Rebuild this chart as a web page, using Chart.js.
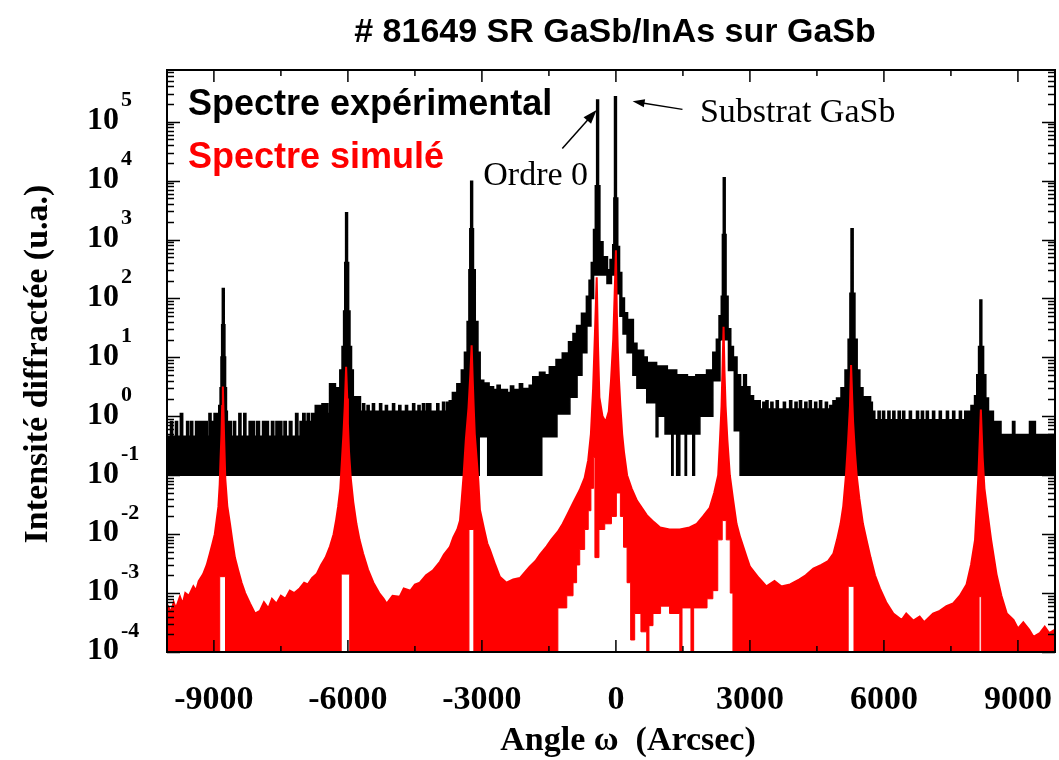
<!DOCTYPE html>
<html>
<head>
<meta charset="utf-8">
<title># 81649 SR GaSb/InAs sur GaSb</title>
<script src="https://cdn.jsdelivr.net/npm/chart.js@4.4.1/dist/chart.umd.min.js"></script>
<style>
  html, body { margin: 0; padding: 0; background: #fff; }
  canvas { display: block; }
</style>
</head>
<body>
<canvas id="xrdChart" width="1059" height="760"></canvas>
<script>
// omega scan of sample 81649 (GaSb/InAs superlattice on GaSb), log intensity
const angleTicks = [-9000, -6000, -3000, 0, 3000, 6000, 9000];
const decadeExponents = [-4, -3, -2, -1, 0, 1, 2, 3, 4, 5];

// measured spectrum, top and bottom edge of the noisy trace: [angle (arcsec), intensity]
const expUpper = [
  [-10050, 0.45], [-9960, 0.8], [-9935, 0.45], [-9850, 0.8], [-9825, 0.45], [-9740, 1.1], [-9710, 0.45],
  [-9600, 0.8], [-9575, 0.45], [-9510, 0.8], [-9485, 0.45], [-9400, 0.8], [-9370, 0.45], [-9340, 0.8],
  [-9300, 0.45], [-9250, 0.8], [-9215, 0.45], [-9185, 0.8], [-9160, 0.45], [-9100, 1.1], [-9075, 0.45],
  [-9040, 0.8], [-9015, 0.45], [-8985, 1.1], [-8955, 0.8], [-8920, 1.1], [-8880, 1.5], [-8850, 3],
  [-8830, 10], [-8815, 35], [-8800, 145], [-8780, 35], [-8765, 10], [-8750, 3], [-8730, 1.2],
  [-8710, 0.8], [-8680, 0.45], [-8650, 0.8], [-8620, 0.45], [-8550, 0.8], [-8525, 0.45], [-8430, 1.1],
  [-8405, 0.45], [-8320, 1.1], [-8295, 0.45], [-8200, 0.8], [-8175, 0.45], [-8130, 0.8], [-8100, 0.45],
  [-8030, 0.8], [-7990, 0.45], [-7900, 0.8], [-7875, 0.45], [-7820, 0.8], [-7790, 0.45], [-7700, 0.8],
  [-7670, 0.45], [-7600, 0.8], [-7570, 0.45], [-7520, 0.8], [-7490, 0.45], [-7420, 0.8], [-7390, 0.45],
  [-7300, 0.8], [-7265, 0.45], [-7160, 1.1], [-7130, 0.45], [-7060, 0.8], [-7030, 0.45], [-7000, 1.1],
  [-6970, 0.8], [-6900, 1.1], [-6870, 0.8], [-6800, 1.1], [-6770, 0.8], [-6720, 1.5], [-6690, 0.8],
  [-6650, 1.5], [-6620, 1.1], [-6570, 1.6], [-6520, 1.1], [-6490, 1.6], [-6460, 1.1], [-6400, 3.5],
  [-6290, 2.2], [-6240, 3], [-6170, 6], [-6120, 15], [-6085, 60], [-6060, 400], [-6040, 2800],
  [-6020, 400], [-5995, 60], [-5965, 15], [-5930, 6], [-5890, 2.1], [-5730, 1.2], [-5660, 1.6],
  [-5635, 1.2], [-5560, 1.5], [-5535, 1.2], [-5440, 1.6], [-5415, 1.2], [-5280, 1.6], [-5255, 1.2],
  [-5150, 1.5], [-5125, 1.2], [-4990, 1.6], [-4965, 1.2], [-4850, 1.5], [-4825, 1.2], [-4700, 1.5],
  [-4675, 1.2], [-4540, 1.6], [-4515, 1.2], [-4420, 1.5], [-4395, 1.2], [-4320, 1.6], [-4295, 1.2],
  [-4230, 1.6], [-4205, 1.2], [-4180, 1.6], [-4155, 1.2], [-4000, 1.6], [-3975, 1.2], [-3870, 1.7],
  [-3845, 1.2], [-3780, 1.7], [-3720, 1.8], [-3650, 2.5], [-3550, 3.5], [-3450, 6], [-3380, 12],
  [-3320, 40], [-3280, 300], [-3260, 1500], [-3240, 9600], [-3220, 1500], [-3200, 300], [-3160, 40],
  [-3100, 12], [-3050, 4], [-2970, 3.6], [-2850, 3.1], [-2750, 2.8], [-2650, 3.3], [-2600, 2.8],
  [-2440, 2.5], [-2350, 3.2], [-2300, 2.8], [-2150, 3.5], [-2100, 2.9], [-1930, 3.3], [-1850, 4.6],
  [-1700, 5.5], [-1600, 5], [-1480, 6.8], [-1330, 9], [-1190, 11.6], [-1050, 18], [-950, 25],
  [-870, 34], [-760, 55], [-650, 107], [-590, 200], [-540, 400], [-490, 1450], [-450, 8000],
  [-420, 230000], [-400, 8000], [-370, 900], [-300, 500], [-200, 300], [-120, 450], [-60, 800],
  [-35, 5000], [-20, 260000], [0, 5000], [30, 750], [70, 270], [120, 100], [180, 56], [250, 43],
  [380, 17], [460, 13], [610, 10], [690, 8], [900, 7], [1140, 6], [1350, 5], [1590, 4.6], [1800, 5],
  [2040, 6], [2180, 12], [2260, 20], [2320, 50], [2370, 107], [2395, 1200], [2415, 11000],
  [2435, 1200], [2455, 107], [2500, 30], [2560, 15], [2620, 10], [2700, 5], [2780, 3.1], [2870, 5],
  [2910, 3.1], [2990, 2.2], [3070, 1.8], [3220, 1.3], [3300, 1.7], [3325, 1.3], [3370, 1.8],
  [3395, 1.3], [3480, 1.7], [3505, 1.3], [3600, 1.8], [3625, 1.3], [3760, 1.7], [3785, 1.3],
  [3900, 1.8], [3925, 1.3], [4020, 1.7], [4045, 1.3], [4120, 1.8], [4145, 1.3], [4240, 1.7],
  [4265, 1.3], [4340, 1.8], [4365, 1.3], [4460, 1.7], [4485, 1.3], [4570, 1.8], [4595, 1.3],
  [4700, 1.7], [4725, 1.3], [4800, 1.5], [4870, 1.8], [4950, 2], [5050, 3], [5140, 6], [5210, 20],
  [5250, 120], [5275, 1500], [5300, 120], [5340, 20], [5390, 6], [5450, 3], [5520, 2.1], [5690, 1.7],
  [5730, 0.86], [5760, 1.2], [5785, 0.86], [5880, 1.2], [5905, 0.86], [5980, 1.2], [6005, 0.86],
  [6100, 1.2], [6125, 0.86], [6210, 1.2], [6235, 0.86], [6330, 1.2], [6355, 0.86], [6430, 1.2],
  [6455, 0.86], [6580, 1.2], [6605, 0.86], [6740, 1.2], [6765, 0.86], [6850, 1.2], [6875, 0.86],
  [6960, 1.2], [6985, 0.86], [7100, 1.2], [7125, 0.86], [7250, 1.2], [7275, 0.86], [7410, 1.2],
  [7435, 0.86], [7550, 1.2], [7575, 0.86], [7700, 1.2], [7725, 0.86], [7820, 1.2], [7845, 0.86],
  [7900, 1.2], [7960, 1.5], [8040, 2.2], [8090, 5], [8130, 15], [8160, 92], [8180, 15], [8220, 5],
  [8270, 2], [8330, 1.2], [8440, 0.8], [8470, 0.48], [8510, 0.8], [8540, 0.48], [8580, 0.8],
  [8610, 0.48], [8890, 0.8], [8920, 0.48], [9270, 0.8], [9300, 0.48], [9350, 0.8], [9380, 0.48],
  [9830, 0.48]
];
const expLower = [
  [-10050, 0.1], [-3060, 0.45], [-2870, 0.1], [-1660, 0.45], [-1320, 1.1], [-1030, 2.1], [-870, 5],
  [-760, 12], [-650, 34], [-560, 100], [-500, 250], [-300, 250], [-200, 180], [-100, 250], [-30, 300],
  [40, 120], [90, 50], [160, 25], [250, 12], [380, 5], [470, 3], [690, 1.7], [900, 0.45], [940, 1.0],
  [1100, 0.5], [1250, 0.1], [1280, 0.5], [1360, 0.1], [1430, 0.5], [1550, 0.1], [1580, 0.5],
  [1720, 0.1], [1760, 0.5], [1880, 1.0], [2170, 4], [2330, 20], [2520, 6], [2650, 0.57], [2780, 0.1],
  [9830, 0.1]
];

// simulated spectrum, same layout
const simUpper = [
  [-10050, 6.5e-4], [-9960, 4.8e-4], [-9900, 7e-4], [-9850, 5.5e-4], [-9760, 8.7e-4], [-9700, 6.5e-4],
  [-9640, 1.0e-3], [-9560, 9e-4], [-9460, 1.3e-3], [-9400, 1.1e-3], [-9340, 1.6e-3], [-9240, 2.1e-3],
  [-9160, 3e-3], [-9090, 4.7e-3], [-9030, 7e-3], [-8980, 0.01], [-8940, 0.017], [-8900, 0.029],
  [-8870, 0.07], [-8850, 0.2], [-8830, 0.5], [-8815, 1.5], [-8800, 3.2], [-8785, 1.2], [-8770, 0.4],
  [-8745, 0.087], [-8700, 0.03], [-8640, 0.015], [-8590, 8e-3], [-8530, 4e-3], [-8460, 2.5e-3],
  [-8380, 1.5e-3], [-8300, 1.0e-3], [-8190, 6.6e-4], [-8080, 4.5e-4], [-7970, 5e-4], [-7880, 7e-4],
  [-7780, 5.5e-4], [-7700, 8e-4], [-7600, 6.6e-4], [-7500, 9e-4], [-7400, 8e-4], [-7300, 1.1e-3],
  [-7200, 1e-3], [-7080, 1.2e-3], [-6980, 1.5e-3], [-6900, 1.4e-3], [-6800, 1.8e-3], [-6700, 2.1e-3],
  [-6600, 3e-3], [-6500, 4e-3], [-6400, 6.2e-3], [-6320, 0.01], [-6260, 0.018], [-6220, 0.029],
  [-6170, 0.06], [-6130, 0.2], [-6100, 0.5], [-6070, 1.5], [-6040, 6.9], [-6015, 2], [-6000, 0.76],
  [-5975, 0.25], [-5935, 0.087], [-5880, 0.035], [-5810, 0.015], [-5740, 8e-3], [-5660, 4.7e-3],
  [-5550, 2.5e-3], [-5430, 1.5e-3], [-5300, 1e-3], [-5200, 8e-4], [-5130, 6.6e-4], [-5000, 9e-4],
  [-4840, 8.7e-4], [-4750, 1.2e-3], [-4600, 1.1e-3], [-4500, 1.4e-3], [-4390, 1.5e-3], [-4250, 2e-3],
  [-4100, 2.4e-3], [-3940, 3.4e-3], [-3850, 4.5e-3], [-3720, 6e-3], [-3640, 8.8e-3], [-3550, 0.012],
  [-3490, 0.017], [-3450, 0.04], [-3410, 0.1], [-3360, 0.4], [-3300, 1.4], [-3260, 5], [-3230, 16],
  [-3205, 4], [-3185, 1.5], [-3160, 0.5], [-3120, 0.2], [-3080, 0.08], [-3045, 0.026], [-2950, 0.012],
  [-2880, 7e-3], [-2820, 5.4e-3], [-2700, 3e-3], [-2600, 1.9e-3], [-2450, 1.5e-3], [-2300, 1.7e-3],
  [-2150, 1.8e-3], [-2050, 2.2e-3], [-1930, 2.8e-3], [-1800, 3.5e-3], [-1700, 4.5e-3], [-1550, 6.2e-3],
  [-1450, 8e-3], [-1300, 0.011], [-1190, 0.015], [-1080, 0.022], [-950, 0.035], [-810, 0.056],
  [-700, 0.09], [-620, 0.18], [-560, 0.5], [-510, 3], [-470, 25], [-430, 230], [-400, 15], [-370, 2.1],
  [-300, 1], [-230, 0.8], [-160, 1.2], [-110, 4], [-60, 20], [-30, 107], [0, 660], [20, 60], [40, 15],
  [70, 4], [100, 1.5], [140, 0.5], [180, 0.25], [250, 0.1], [350, 0.06], [470, 0.037], [580, 0.028],
  [690, 0.021], [850, 0.016], [990, 0.013], [1200, 0.012], [1430, 0.012], [1650, 0.013], [1810, 0.015],
  [1950, 0.02], [2100, 0.028], [2200, 0.05], [2290, 0.1], [2330, 0.4], [2365, 1.5], [2390, 8],
  [2410, 33], [2430, 6], [2455, 1.5], [2495, 0.4], [2550, 0.1], [2620, 0.04], [2700, 0.015],
  [2780, 8.9e-3], [2930, 4e-3], [3000, 2.8e-3], [3200, 1.8e-3], [3370, 1.3e-3], [3550, 1.6e-3],
  [3700, 1.3e-3], [3900, 1.4e-3], [4100, 1.7e-3], [4250, 2e-3], [4420, 2.6e-3], [4600, 3e-3],
  [4750, 3.5e-3], [4870, 4.7e-3], [4950, 8e-3], [5030, 0.015], [5090, 0.03], [5150, 0.1], [5200, 0.4],
  [5240, 1.5], [5265, 7.4], [5290, 2], [5310, 0.8], [5350, 0.25], [5390, 0.1], [5450, 0.04],
  [5530, 0.015], [5610, 8e-3], [5700, 4e-3], [5800, 2e-3], [5910, 1.2e-3], [6050, 7e-4], [6210, 4.5e-4],
  [6400, 3.5e-4], [6500, 4.5e-4], [6660, 3.4e-4], [6800, 4e-4], [6900, 3.2e-4], [7100, 4.5e-4],
  [7250, 5e-4], [7400, 6e-4], [7550, 6.7e-4], [7700, 9e-4], [7850, 1.4e-3], [7950, 3e-3], [8040, 8e-3],
  [8080, 0.03], [8115, 0.1], [8145, 0.4], [8170, 1.3], [8190, 0.5], [8210, 0.2], [8250, 0.06],
  [8300, 0.03], [8400, 8e-3], [8520, 2.1e-3], [8630, 9e-4], [8750, 4.5e-4], [8900, 3.5e-4],
  [9000, 2.5e-4], [9120, 3.2e-4], [9250, 2.4e-4], [9350, 1.8e-4], [9490, 2.1e-4], [9600, 2.7e-4],
  [9700, 2.1e-4], [9830, 2.4e-4]
];
const simLower = [
  [-10050, 1e-4], [-8870, 1.9e-3], [-8740, 1e-4], [-6150, 2.1e-3], [-5960, 1e-4], [-3290, 0.012],
  [-3180, 1e-4], [-1300, 5.6e-4], [-1100, 9e-4], [-960, 1.5e-3], [-880, 3e-3], [-810, 5.5e-3],
  [-700, 0.012], [-620, 0.025], [-560, 0.06], [-500, 0.2], [-470, 0.004], [-380, 0.012], [-250, 0.015],
  [-100, 0.02], [10, 0.05], [100, 0.02], [170, 6e-3], [250, 1.5e-3], [330, 1.6e-4],
  [420, 4.5e-4], [560, 2.2e-4], [690, 1e-4], [740, 2.8e-4], [830, 4.5e-4], [1000, 6e-4], [1200, 4.5e-4],
  [1430, 1e-4], [1480, 5.6e-4], [1680, 1e-4], [1740, 5.6e-4], [2040, 8e-4], [2170, 1.1e-3],
  [2280, 8e-3], [2380, 0.017], [2470, 8e-3], [2560, 1e-3], [2620, 1e-4], [5200, 1.3e-3], [5330, 1e-4],
  [8130, 8.7e-4], [8180, 1e-4], [9830, 1e-4]
];

const toPoints = arr => arr.map(([x, y]) => ({ x, y }));

const SERIF = '"Liberation Serif", "Times New Roman", serif';
const SANS = '"Liberation Sans", Arial, sans-serif';

function drawArrow(ctx, x0, y0, x1, y1, len, half) {
  const a = Math.atan2(y1 - y0, x1 - x0);
  const c = Math.cos(a), s = Math.sin(a);
  ctx.beginPath();
  ctx.moveTo(x0, y0);
  ctx.lineTo(x1 - len * 0.7 * c, y1 - len * 0.7 * s);
  ctx.stroke();
  ctx.beginPath();
  ctx.moveTo(x1, y1);
  ctx.lineTo(x1 - len * c + half * s, y1 - len * s - half * c);
  ctx.lineTo(x1 - len * c - half * s, y1 - len * s + half * c);
  ctx.closePath();
  ctx.fill();
}

// frame, inward ticks, exponent labels, titles and notes
const decorPlugin = {
  id: 'decor',
  afterDraw(chart) {
    const { ctx, chartArea: a, scales: { x, y } } = chart;
    ctx.save();
    ctx.strokeStyle = '#000';
    ctx.fillStyle = '#000';

    ctx.lineWidth = 1.5;
    ctx.beginPath();
    for (let v = -9000; v <= 9000; v += 1500) {
      const px = x.getPixelForValue(v);
      const len = v % 3000 === 0 ? 12 : 6;
      ctx.moveTo(px, a.bottom); ctx.lineTo(px, a.bottom - len);
      ctx.moveTo(px, a.top); ctx.lineTo(px, a.top + len);
    }
    for (const k of decadeExponents) {
      for (let m = 1; m <= 9; m++) {
        const v = m * Math.pow(10, k);
        if (v > y.max) break;
        const py = Math.round(y.getPixelForValue(v)) + 0.5;
        const len = m === 1 ? 13 : 7;
        ctx.moveTo(a.left, py); ctx.lineTo(a.left + len, py);
        ctx.moveTo(a.right, py); ctx.lineTo(a.right - len, py);
      }
    }
    ctx.stroke();

    ctx.lineWidth = 2;
    ctx.strokeRect(a.left, a.top, a.right - a.left, a.bottom - a.top);

    // y tick labels: 10 with raised exponent
    ctx.textBaseline = 'middle';
    for (const k of decadeExponents) {
      const py = y.getPixelForValue(Math.pow(10, k));
      ctx.font = `bold 32px ${SERIF}`;
      ctx.textAlign = 'center';
      ctx.fillText('10', a.left - 64, py - 1);
      ctx.font = `bold 22px ${SERIF}`;
      ctx.textAlign = 'left';
      ctx.fillText(String(k), a.left - 46, py - 21);
    }

    // axis titles
    ctx.font = `bold 34px ${SERIF}`;
    ctx.textAlign = 'center';
    ctx.fillText('Angle \u03c9  (Arcsec)', 628, 741);
    ctx.save();
    ctx.translate(38, 364);
    ctx.rotate(-Math.PI / 2);
    ctx.fillText('Intensité diffractée (u.a.)', 0, 0);
    ctx.restore();

    // chart title
    ctx.textBaseline = 'alphabetic';
    ctx.font = `bold 34px ${SANS}`;
    ctx.fillText('# 81649 SR GaSb/InAs sur GaSb', 615, 42);

    // series names inside the plot
    ctx.textAlign = 'left';
    ctx.font = `bold 36px ${SANS}`;
    ctx.fillText('Spectre expérimental', a.left + 21, 115);
    ctx.fillStyle = '#ff0000';
    ctx.fillText('Spectre simulé', a.left + 21, 168);

    // peak notes with arrows
    ctx.fillStyle = '#000';
    ctx.font = `34px ${SERIF}`;
    ctx.fillText('Substrat GaSb', x.getPixelForValue(1880), y.getPixelForValue(1e5));
    ctx.fillText('Ordre 0', x.getPixelForValue(-2970), y.getPixelForValue(8400));
    ctx.lineWidth = 1.5;
    drawArrow(ctx, x.getPixelForValue(1490), y.getPixelForValue(1.62e5),
      x.getPixelForValue(374), y.getPixelForValue(2.22e5), 12, 4);
    drawArrow(ctx, x.getPixelForValue(-1200), y.getPixelForValue(3.5e4),
      x.getPixelForValue(-432), y.getPixelForValue(1.58e5), 14, 5);
    ctx.restore();
  }
};

const ctx = document.getElementById('xrdChart').getContext('2d');
const xrdChart = new Chart(ctx, {
  type: 'line',
  data: {
    datasets: [
      {
        label: 'Spectre simulé',
        data: toPoints(simUpper),
        borderColor: '#ff0000',
        backgroundColor: '#ff0000',
        borderWidth: 2,
        fill: '+1',
        pointRadius: 0
      },
      {
        label: 'Spectre simulé (bord bas)',
        data: toPoints(simLower),
        borderColor: '#ff0000',
        borderWidth: 1,
        fill: false,
        stepped: true,
        pointRadius: 0
      },
      {
        label: 'Spectre expérimental',
        data: toPoints(expUpper),
        borderColor: '#000000',
        backgroundColor: '#000000',
        borderWidth: 2.5,
        fill: '+1',
        stepped: true,
        pointRadius: 0
      },
      {
        label: 'Spectre expérimental (bord bas)',
        data: toPoints(expLower),
        borderColor: '#000000',
        borderWidth: 1.5,
        fill: false,
        stepped: true,
        pointRadius: 0
      }
    ]
  },
  options: {
    responsive: false,
    animation: false,
    devicePixelRatio: 1,
    layout: { padding: { top: 70, right: 4, bottom: 0, left: 0 } },
    plugins: {
      legend: { display: false },
      tooltip: { enabled: false },
      title: { display: false }
    },
    scales: {
      x: {
        type: 'linear',
        min: -10050,
        max: 9830,
        grid: { display: false, drawTicks: false },
        border: { display: false },
        afterBuildTicks: scale => { scale.ticks = angleTicks.map(v => ({ value: v })); },
        afterFit: scale => {
          scale.height = 108;
          scale.paddingLeft = 0;
          scale.paddingRight = 0;
        },
        ticks: {
          color: '#000',
          padding: 28,
          maxRotation: 0,
          font: { family: SERIF, size: 34, weight: 'bold' },
          callback: v => String(v)
        }
      },
      y: {
        type: 'logarithmic',
        min: 1e-4,
        max: 7.55e5,
        grid: { display: false, drawTicks: false },
        border: { display: false },
        ticks: { display: false },
        afterFit: scale => { scale.width = 167; }
      }
    }
  },
  plugins: [decorPlugin]
});
</script>
</body>
</html>
